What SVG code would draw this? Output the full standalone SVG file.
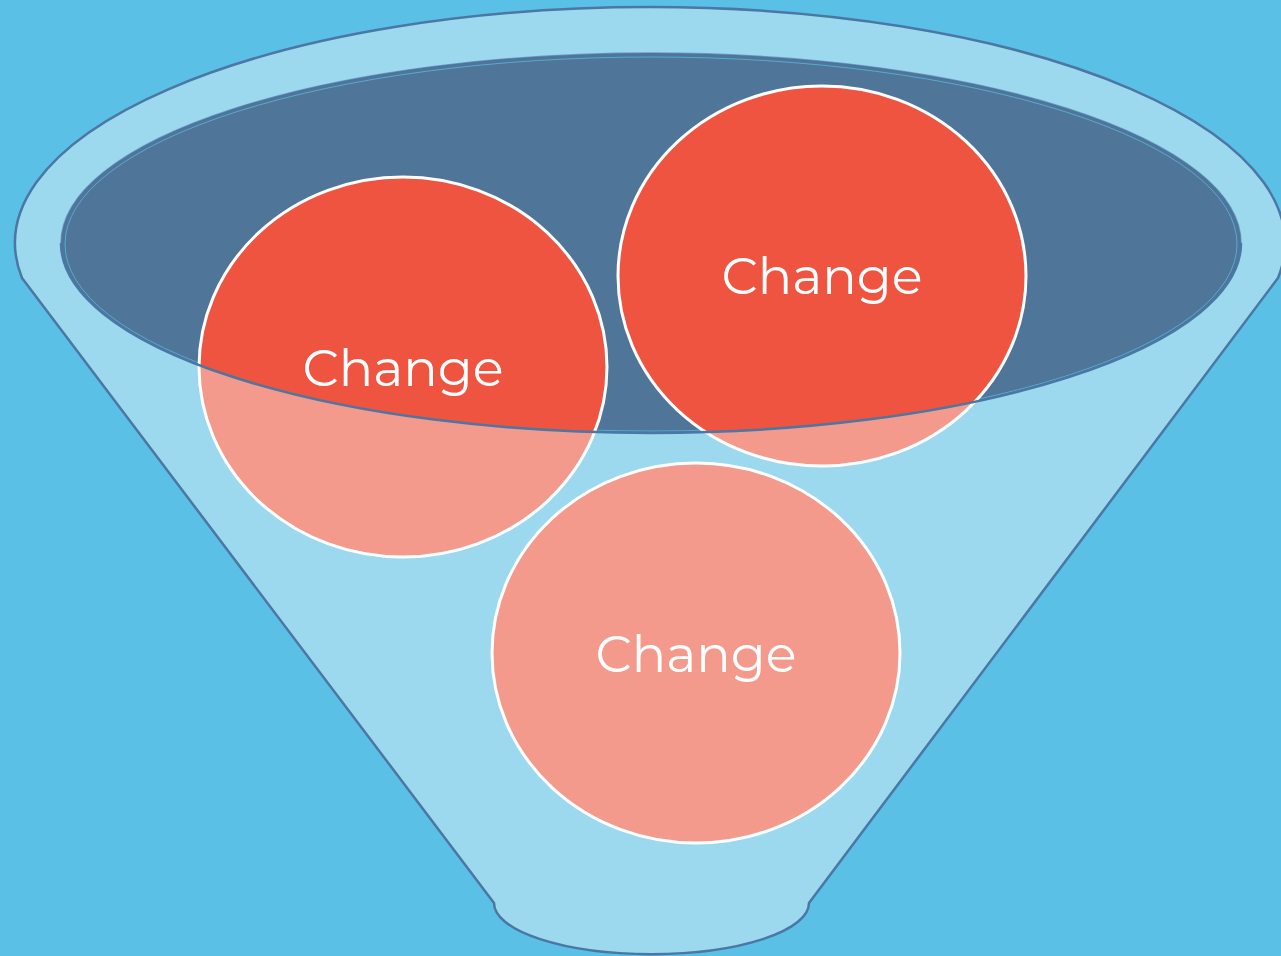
<svg xmlns="http://www.w3.org/2000/svg" width="1281" height="956" viewBox="0 0 1281 956">
<style>
.lbl{font-family:"Montserrat","Open Sans","Liberation Sans",sans-serif;font-size:51px;fill:#ffffff;text-anchor:middle}
.circ{stroke:#ffffff;stroke-width:3}
.outline{fill:none;stroke:#ffffff;stroke-width:3}
.pink{fill:#F39A8D}
.red{fill:#EF5440}
</style>
<defs>
<clipPath id="inner"><ellipse cx="651" cy="243" rx="590" ry="190"/></clipPath>
</defs>
<rect x="0" y="0" width="1281" height="956" fill="#5BC0E6"/>
<g id="funnel">
<path d="M 22 278 A 635 236 0 1 1 1278 278 L 809 903 A 157 51 0 0 1 494 903 Z" fill="#9DD9EE" stroke="#4A77A3" stroke-width="2.5" stroke-linejoin="round"/>
<ellipse cx="651" cy="243" rx="590" ry="190" fill="#4F7599"/>
<path d="M 61 243 A 590 190 0 0 1 1241 243" fill="none" stroke="#4A77A3" stroke-width="1.5" stroke-opacity="0.6"/>
<ellipse cx="651" cy="244" rx="586" ry="187" fill="none" stroke="#5BC0E6" stroke-width="1" stroke-opacity="0.7"/>
</g>
<g id="node-bottom">
<ellipse class="circ pink" cx="696" cy="653" rx="204" ry="190"/>
<text class="lbl" x="696" y="672">Change</text>
</g>
<g id="node-left">
<ellipse class="pink" cx="403" cy="367" rx="204" ry="190"/>
<ellipse class="red" cx="403" cy="367" rx="204" ry="190" clip-path="url(#inner)"/>
<ellipse class="outline" cx="403" cy="367" rx="204" ry="190"/>
</g>
<g id="node-right">
<ellipse class="pink" cx="822" cy="276" rx="204" ry="190"/>
<ellipse class="red" cx="822" cy="276" rx="204" ry="190" clip-path="url(#inner)"/>
<ellipse class="outline" cx="822" cy="276" rx="204" ry="190"/>
</g>
<g id="rim">
<path d="M 61 243 A 590 190 0 0 0 1241 243" fill="none" stroke="#4A77A3" stroke-width="2.5"/>
</g>
<g id="labels">
<text class="lbl" x="403" y="386">Change</text>
<text class="lbl" x="822" y="294">Change</text>
</g>
</svg>
